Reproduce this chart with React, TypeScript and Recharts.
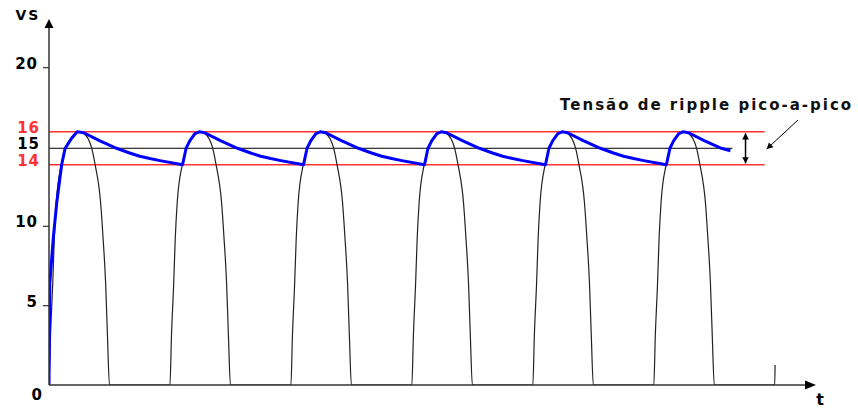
import React from 'react';
import { LineChart, Line, XAxis, YAxis, ReferenceLine, ReferenceDot } from 'recharts';

// time in divisions (one mains cycle = 12 div), voltage in volts
const yTicks = [0, 5, 10, 20];
const pulseStarts = [0, 12, 24, 36, 48, 60];

// one rectified half-cycle: [t from pulse start, V]
const pulseShape = [
  [0, 0], [0.15, 3.1], [0.37, 6.4], [0.53, 9.3], [0.72, 11.5], [1.23, 13.9], [1.6, 14.9],
  [2.1, 15.5], [2.6, 15.85], [3.0, 15.96], [3.45, 15.85], [3.9, 15.5], [4.25, 14.9], [4.57, 13.9], [5.12, 11.5],
  [5.36, 9.3], [5.62, 6.4], [5.8, 3.1], [6.0, 0],
];
// start of the next pulse, cut off at the right edge
const lastStub = [[72, 0], [72.03, 1.26]];

// capacitor voltage: first charge, then discharge / recharge per cycle
const firstCharge = [
  [0, 0], [0.08, 6.4], [0.43, 9.3], [0.77, 11.5], [1.26, 13.9], [1.59, 14.9], [2.25, 15.55], [2.8, 15.96],
];
const discharge = [[3.45, 15.9], [5.0, 15.4], [6.7, 14.92], [8.0, 14.62], [9.0, 14.42], [10.0, 14.27], [11.0, 14.14], [13.25, 13.88]];
const recharge = [[1.6, 14.92], [1.98, 15.4], [2.48, 15.84], [2.9, 15.96]];
const curveEnd = [67.6, 14.76];

// reference levels as drawn
const levels = [
  { label: '16', v: 15.96, end: 71, color: '#ff3333' },
  { label: '15', v: 14.92, end: 67.8, color: '#000000' },
  { label: '14', v: 13.88, end: 71, color: '#ff3333' },
];

const inputData: { t: number; v: number }[] = [];
pulseStarts.forEach((s) => pulseShape.forEach(([t, v]) => inputData.push({ t: s + t, v })));
lastStub.forEach(([t, v]) => inputData.push({ t, v }));

const outputData: { t: number; v: number }[] = firstCharge.map(([t, v]) => ({ t, v }));
pulseStarts.forEach((s, i) => {
  discharge.forEach(([t, v]) => {
    if (s + t < curveEnd[0]) outputData.push({ t: s + t, v });
  });
  if (i < pulseStarts.length - 1) {
    recharge.forEach(([t, v]) => outputData.push({ t: s + 12 + t, v }));
  }
});
outputData.push({ t: curveEnd[0], v: curveEnd[1] });

const FONT = '"DejaVu Sans", Verdana, sans-serif';

const YTick = ({ x, y, payload }: any) => {
  const zero = payload.value === 0;
  return (
    <g>
      {!zero && <line x1={x} y1={y} x2={x + 6} y2={y} stroke="#333" strokeWidth={1.2} />}
      <text
        x={zero ? x : x - 5}
        y={zero ? y + 15 : y + 1}
        textAnchor="end"
        fontFamily={FONT}
        fontWeight="bold"
        fontSize={15}
        letterSpacing={1}
        fill="#000"
      >
        {payload.value}
      </text>
    </g>
  );
};

const head = (x: number, y: number, ang: number, size: number, key: string) => {
  const a1 = ang + Math.PI - 0.5;
  const a2 = ang + Math.PI + 0.5;
  return (
    <polygon
      key={key}
      points={`${x},${y} ${x + size * Math.cos(a1)},${y + size * Math.sin(a1)} ${x + size * Math.cos(a2)},${y + size * Math.sin(a2)}`}
      fill="#000"
    />
  );
};

const DoubleArrow = (p: any) => {
  const ang = Math.atan2(p.y2 - p.y1, p.x2 - p.x1);
  return (
    <g>
      <line x1={p.x1} y1={p.y1} x2={p.x2} y2={p.y2} stroke="#000" strokeWidth={1.5} />
      {head(p.x1, p.y1, ang + Math.PI, 7, 'a')}
      {head(p.x2, p.y2, ang, 7, 'b')}
    </g>
  );
};

const Pointer = (p: any) => {
  const ang = Math.atan2(p.y2 - p.y1, p.x2 - p.x1);
  return (
    <g>
      <line x1={p.x1} y1={p.y1} x2={p.x2} y2={p.y2} stroke="#000" strokeWidth={1} />
      {head(p.x2, p.y2, ang, 7, 'a')}
    </g>
  );
};

export default function App() {
  return (
    <div style={{ position: 'absolute', left: 0, top: 0, width: 858, height: 410, background: '#fff' }}>
      <LineChart width={858} height={410} margin={{ top: 28, right: 53, bottom: 24, left: 0 }}>
        <XAxis
          type="number"
          dataKey="t"
          domain={[0, 75]}
          allowDataOverflow
          ticks={[]}
          tick={false}
          tickLine={false}
          height={1}
          axisLine={{ stroke: '#333', strokeWidth: 1.5 }}
        />
        <YAxis
          type="number"
          dataKey="v"
          domain={[0, 22.5]}
          allowDataOverflow
          ticks={yTicks}
          interval={0}
          width={49}
          tickSize={6}
          tickMargin={0}
          tickLine={false}
          tick={<YTick />}
          axisLine={{ stroke: '#333', strokeWidth: 1.5 }}
        />

        {levels.map((l) => (
          <ReferenceLine
            key={l.label}
            segment={[{ x: 0, y: l.v }, { x: l.end, y: l.v }]}
            stroke={l.color}
            strokeWidth={l.color === '#000000' ? 1 : 1.5}
          />
        ))}
        {levels.map((l) => (
          <ReferenceDot
            key={'lbl' + l.label}
            x={0}
            y={l.v}
            ifOverflow="visible"
            shape={(p: any) => (
              <text
                x={p.cx - 9}
                y={p.cy + 1}
                textAnchor="end"
                fontFamily={FONT}
                fontWeight="bold"
                fontSize={15}
                letterSpacing={1}
                fill={l.color}
              >
                {l.label}
              </text>
            )}
          />
        ))}

        <Line
          data={inputData}
          dataKey="v"
          type="monotone"
          stroke="#222"
          strokeWidth={1.2}
          dot={false}
          isAnimationActive={false}
        />
        <Line
          data={outputData}
          dataKey="v"
          type="linear"
          stroke="#0000ff"
          strokeWidth={3}
          strokeLinejoin="round"
          dot={false}
          isAnimationActive={false}
        />

        <ReferenceLine
          segment={[{ x: 69.1, y: 15.86 }, { x: 69.1, y: 13.97 }]}
          ifOverflow="visible"
          shape={DoubleArrow}
        />
        <ReferenceLine
          segment={[{ x: 74.3, y: 16.7 }, { x: 71.2, y: 14.87 }]}
          ifOverflow="visible"
          shape={Pointer}
        />
        <ReferenceDot
          x={50.7}
          y={17.64}
          ifOverflow="visible"
          shape={(p: any) => (
            <text
              x={p.cx}
              y={p.cy}
              dominantBaseline="central"
              fontFamily={FONT}
              fontWeight="bold"
              fontSize={15}
              letterSpacing={2}
              fill="#111"
            >
              Tensão de ripple pico-a-pico
            </text>
          )}
        />

        {/* axis arrow heads and names */}
        <ReferenceDot
          x={75}
          y={0}
          ifOverflow="visible"
          shape={(p: any) => (
            <g>
              <polygon points={`${p.cx},${p.cy - 4.5} ${p.cx + 11},${p.cy} ${p.cx},${p.cy + 4.5}`} fill="#000" />
              <text x={p.cx + 15} y={p.cy + 20} textAnchor="middle" fontFamily={FONT} fontWeight="bold" fontSize={16} fill="#000">
                t
              </text>
            </g>
          )}
        />
        <ReferenceDot
          x={0}
          y={22.5}
          ifOverflow="visible"
          shape={(p: any) => (
            <g>
              <polygon points={`${p.cx - 4.5},${p.cy} ${p.cx},${p.cy - 9} ${p.cx + 4.5},${p.cy}`} fill="#000" />
              <text x={p.cx - 21} y={p.cy - 8} textAnchor="middle" fontFamily={FONT} fontWeight="bold" fontSize={14} letterSpacing={2} fill="#000">
                VS
              </text>
            </g>
          )}
        />
      </LineChart>
    </div>
  );
}
